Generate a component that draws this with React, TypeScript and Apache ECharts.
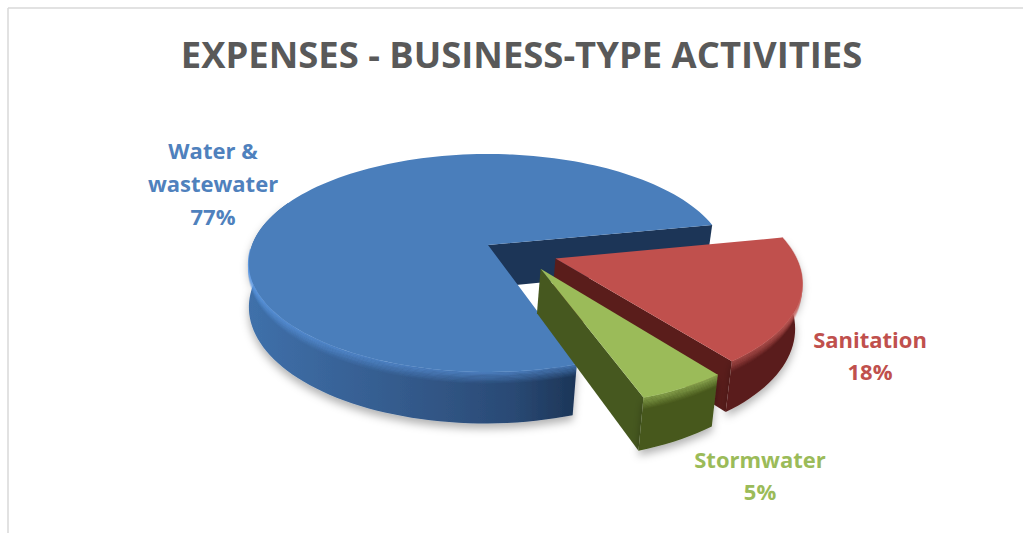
import React, { useEffect, useRef } from "react";
import * as echarts from "echarts";

const titleText = "EXPENSES - BUSINESS-TYPE ACTIVITIES";
const categories = ["Water &\nwastewater", "Sanitation", "Stormwater"];
const values = [77, 18, 5];

const topColors = ["#4a7ebb", "#c0504d", "#9bbb59"];
const innerColors = ["#1c3557", "#5a1d1b", "#46581f"];
const bevelColors = ["#5f9ce6", "#c9605c", "#a9c966"];
const labelColors = ["#4f81bd", "#c0504d", "#9bbb59"];
const explodeU = [0, 0.28, 0.215];
const explodeV = [0, 0.125, 0.215];
const labelX = [213, 870, 760];
const labelY = [183, 355, 475];

const CX = 488, CY = 245, RX = 236, RY = 106, PERSP = 0.165, WALL = 43;
const CONVERGE = 0.013, CONVERGE_X = 260;
const START = 71.5;

function project(u: number, v: number, h: number) {
  const w = 1 - PERSP * v;
  const x = CX + (RX * u) / w;
  return [x - (x - CONVERGE_X) * ((CONVERGE * h) / WALL), CY + (RY * v) / w + h / w];
}

function rimPoint(i: number, deg: number, h: number) {
  const a = (deg * Math.PI) / 180;
  return project(explodeU[i] + Math.cos(a), explodeV[i] + Math.sin(a), h);
}

function arc(i: number, from: number, to: number, h: number) {
  const pts: number[][] = [];
  const n = Math.max(2, Math.ceil(Math.abs(to - from) / 2));
  for (let k = 0; k <= n; k++) pts.push(rimPoint(i, from + ((to - from) * k) / n, h));
  return pts;
}

function sliceAngles(i: number) {
  const total = values.reduce((a, b) => a + b, 0);
  let s = START;
  for (let k = 0; k < i; k++) s += (values[k] / total) * 360;
  return [s, s + (values[i] / total) * 360];
}

const wallFill = (i: number) =>
  i === 0
    ? new echarts.graphic.LinearGradient(0, 0, 1, 0, [
        { offset: 0, color: "#3f70aa" },
        { offset: 0.5, color: "#33598a" },
        { offset: 0.8, color: "#2a4a75" },
        { offset: 1, color: "#1c3557" },
      ])
    : innerColors[i];

function renderItem(params: any) {
  const i = params.dataIndex;
  const [a0, a1] = sliceAngles(i);
  const apex = project(explodeU[i], explodeV[i], 0);
  const apexLow = project(explodeU[i], explodeV[i], WALL);
  const children: any[] = [];
  const shadow = { shadowBlur: 9, shadowColor: "rgba(0,0,0,0.3)", shadowOffsetY: 5 };

  // straight inner wall that faces the viewer
  children.push({
    type: "polygon",
    shape: { points: [apex, rimPoint(i, a1, 0), rimPoint(i, a1, WALL), apexLow] },
    style: { fill: innerColors[i] },
  });

  // curved outer wall
  const wallTo = i === 0 ? 205 : a1;
  children.push({
    type: "polygon",
    shape: { points: [...arc(i, a0, wallTo, 0), ...arc(i, wallTo, a0, WALL)] },
    style: { fill: wallFill(i), ...shadow },
  });

  // bevel along the rim
  for (let k = 9; k >= 0; k--) {
    children.push({
      type: "polyline",
      shape: { points: arc(i, a0, i === 0 ? 178 : a1, k) },
      style: { stroke: bevelColors[i], lineWidth: 1.6, opacity: 0.5 * (1 - k / 10), fill: "none" },
    });
  }

  // top face
  children.push({
    type: "polygon",
    shape: { points: [apex, ...arc(i, a0, a1, 0)] },
    style: { fill: topColors[i] },
  });

  children.push({
    type: "text",
    x: labelX[i],
    y: labelY[i],
    style: {
      text: `${categories[i]}\n${values[i]}%`,
      fill: labelColors[i],
      font: 'bold 22px "Open Sans"',
      lineHeight: i === 0 ? 33 : 32,
      align: "center",
      verticalAlign: "middle",
    },
  });
  return { type: "group", children };
}

export default function App() {
  const ref = useRef<HTMLDivElement>(null);
  useEffect(() => {
    const chart = echarts.init(ref.current!, null, { renderer: "svg" });
    chart.setOption({
      animation: false,
      backgroundColor: "#ffffff",
      title: {
        text: titleText,
        left: 516.5,
        top: 31,
        textAlign: "center",
        textStyle: { fontFamily: "Open Sans", fontWeight: "bold", fontSize: 36.4, color: "#595959" },
      },
      graphic: [
        { type: "line", shape: { x1: 8, y1: 8, x2: 1023, y2: 8 }, style: { stroke: "#d9d9d9", lineWidth: 1.5 } },
        { type: "line", shape: { x1: 8, y1: 8, x2: 8, y2: 533 }, style: { stroke: "#d9d9d9", lineWidth: 1.5 } },
      ],
      series: [
        {
          type: "custom",
          coordinateSystem: "none",
          renderItem,
          silent: true,
          data: categories.map((name, i) => ({ name, value: values[i] })),
        },
      ],
    });
    return () => chart.dispose();
  }, []);
  return <div ref={ref} style={{ position: "fixed", left: 0, top: 0, width: 1023, height: 533 }} />;
}
